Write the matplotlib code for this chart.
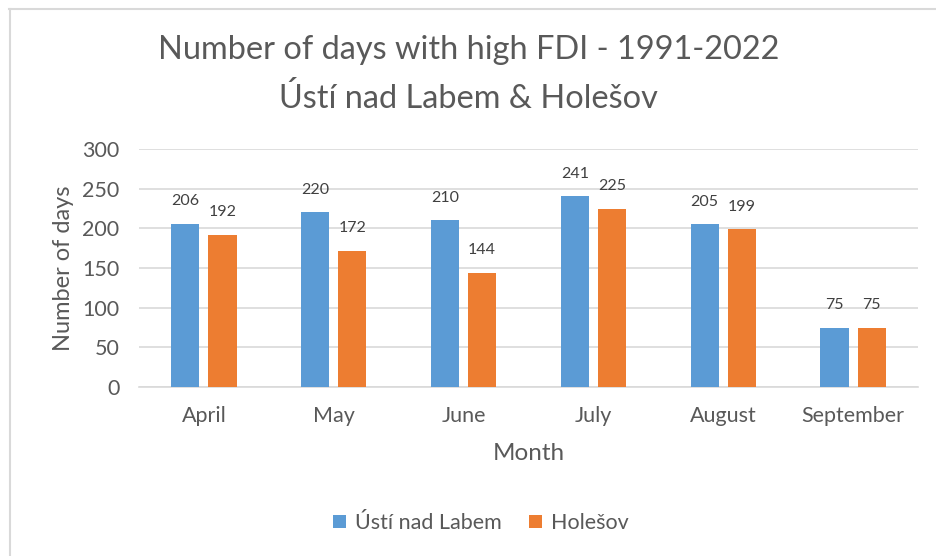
import numpy as np
import matplotlib.pyplot as plt
from matplotlib.lines import Line2D

months = ["April", "May", "June", "July", "August", "September"]
usti = [206, 220, 210, 241, 205, 75]
holesov = [192, 172, 144, 225, 199, 75]
series_names = ["Ústí nad Labem", "Holešov"]
yticks = [0, 50, 100, 150, 200, 250, 300]

BLUE = "#5b9bd5"
ORANGE = "#ed7d31"
TEXT = "#595959"
GRID = "#d9d9d9"

plt.rcParams['font.family'] = ['Lato', 'DejaVu Sans']

fig = plt.figure(figsize=(9.37, 5.56), dpi=100)
ax = fig.add_axes([139/937, 1 - 387/556, 779/937, 238/556])

x = np.arange(len(months))
w = 0.216
off = 0.143
b1 = ax.bar(x - off, usti, w, color=BLUE, label=series_names[0], zorder=3)
b2 = ax.bar(x + off, holesov, w, color=ORANGE, label=series_names[1], zorder=3)

for bars, vals in ((b1, usti), (b2, holesov)):
    for rect, v in zip(bars, vals):
        ax.annotate(str(v), (rect.get_x() + rect.get_width() / 2, v),
                    xytext=(0, 11), textcoords="offset points",
                    ha="center", va="bottom", fontsize=11.5, color="#404040")

ax.set_xlim(-0.5, len(months) - 0.5)
ax.set_ylim(0, 300)
ax.set_yticks(yticks)
ax.set_xticks(x)
ax.set_xticklabels(months)
ax.yaxis.grid(True, color=GRID, linewidth=1.2, zorder=0)
ax.set_axisbelow(True)
for s in ["top", "right", "left"]:
    ax.spines[s].set_visible(False)
ax.spines["bottom"].set_color(GRID)
ax.spines["bottom"].set_linewidth(1.2)
ax.tick_params(axis="both", length=0, labelsize=15.5, colors=TEXT)
ax.tick_params(axis="x", pad=14)
ax.tick_params(axis="y", pad=14)
ax.set_ylabel("Number of days", fontsize=17, color=TEXT, labelpad=6)
ax.set_xlabel("Month", fontsize=17.5, color=TEXT, labelpad=12)

fig.text(0.5, 1 - 50/556, "Number of days with high FDI - 1991-2022",
         ha="center", va="center", fontsize=23.4, color=TEXT)
fig.text(0.5, 1 - 98/556, "Ústí nad Labem & Holešov",
         ha="center", va="center", fontsize=23.4, color=TEXT)

leg = fig.legend(loc="center", bbox_to_anchor=(481/937, 1 - 523/556), ncol=2,
                 frameon=False, fontsize=15.5, handlelength=0.6, handleheight=0.6,
                 columnspacing=1.3, handletextpad=0.4)
for t in leg.get_texts():
    t.set_color(TEXT)

# chart border (top and left edges visible)
fig.add_artist(Line2D([9/937, 1], [1 - 9/556, 1 - 9/556], color=GRID, linewidth=1.5))
fig.add_artist(Line2D([10/937, 10/937], [0, 1 - 9/556], color=GRID, linewidth=1.5))

fig.savefig("out.png", dpi=100)
